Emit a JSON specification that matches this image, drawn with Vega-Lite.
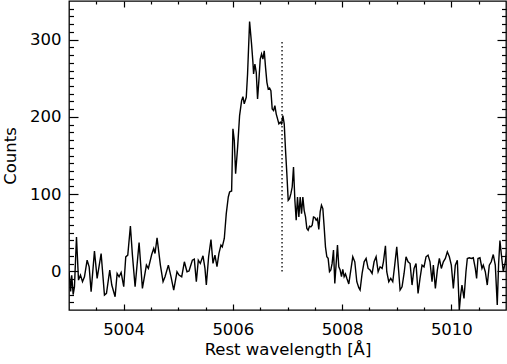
{
  "$schema": "https://vega.github.io/schema/vega-lite/v6.json",
  "width": 437,
  "height": 309,
  "autosize": {"type": "none"},
  "padding": {"left": 69, "top": 1, "right": 1, "bottom": 54},
  "background": "white",
  "config": {
    "view": {"stroke": "black", "strokeWidth": 1.3},
    "axis": {"grid": false, "domain": false, "labelColor": "black", "titleColor": "black", "tickColor": "black", "tickWidth": 1.2, "labelFont": "DejaVu Sans", "titleFont": "DejaVu Sans", "titleFontWeight": "normal", "labelFlush": false}
  },
  "datasets": {
    "spec": [
      {"w": 5003.000, "c": 0}, {"w": 5003.015, "c": -11}, {"w": 5003.030, "c": -26}, {"w": 5003.050, "c": -5},
      {"w": 5003.076, "c": -30}, {"w": 5003.100, "c": -20}, {"w": 5003.137, "c": 44.6}, {"w": 5003.174, "c": -11.3},
      {"w": 5003.210, "c": -4.8}, {"w": 5003.247, "c": -13.4}, {"w": 5003.283, "c": -7}, {"w": 5003.332, "c": 14.5},
      {"w": 5003.369, "c": 5.9}, {"w": 5003.405, "c": -26.3}, {"w": 5003.466, "c": 26.2}, {"w": 5003.515, "c": -9.1},
      {"w": 5003.588, "c": 23.1}, {"w": 5003.649, "c": -30.6}, {"w": 5003.686, "c": -28.5}, {"w": 5003.746, "c": 1.6},
      {"w": 5003.783, "c": -17.7}, {"w": 5003.844, "c": -32.8}, {"w": 5003.881, "c": -2.7}, {"w": 5003.917, "c": -7},
      {"w": 5003.954, "c": -1.4}, {"w": 5004.002, "c": -19.9}, {"w": 5004.039, "c": 18.8}, {"w": 5004.076, "c": 21},
      {"w": 5004.124, "c": 58.8}, {"w": 5004.161, "c": 21}, {"w": 5004.210, "c": -19.9}, {"w": 5004.283, "c": 37.3},
      {"w": 5004.344, "c": -22}, {"w": 5004.417, "c": 8.1}, {"w": 5004.453, "c": 3.8}, {"w": 5004.514, "c": 21.8},
      {"w": 5004.551, "c": 29.6}, {"w": 5004.575, "c": 23.1}, {"w": 5004.612, "c": 43.4}, {"w": 5004.673, "c": 8.1},
      {"w": 5004.722, "c": -13.4}, {"w": 5004.758, "c": -7}, {"w": 5004.819, "c": 8.1}, {"w": 5004.868, "c": -7},
      {"w": 5004.917, "c": -24.2}, {"w": 5004.977, "c": -0.5}, {"w": 5005.014, "c": -4.8}, {"w": 5005.063, "c": -7},
      {"w": 5005.112, "c": 12.4}, {"w": 5005.160, "c": -0.5}, {"w": 5005.197, "c": 0.4}, {"w": 5005.258, "c": 14.5},
      {"w": 5005.294, "c": 15.8}, {"w": 5005.331, "c": -13.4}, {"w": 5005.367, "c": 14.5}, {"w": 5005.404, "c": 10.2},
      {"w": 5005.453, "c": 20.1}, {"w": 5005.489, "c": 3.8}, {"w": 5005.514, "c": -17.6}, {"w": 5005.556, "c": 18.9},
      {"w": 5005.599, "c": 41.3}, {"w": 5005.636, "c": 10.3}, {"w": 5005.672, "c": 21.1}, {"w": 5005.709, "c": 6.0},
      {"w": 5005.745, "c": 23.2}, {"w": 5005.782, "c": 34.0}, {"w": 5005.806, "c": 31.8}, {"w": 5005.843, "c": 42.6},
      {"w": 5005.879, "c": 74.8}, {"w": 5005.916, "c": 96.3}, {"w": 5005.940, "c": 102.8}, {"w": 5005.977, "c": 104.1},
      {"w": 5006.001, "c": 184.5}, {"w": 5006.026, "c": 169.5}, {"w": 5006.050, "c": 126.4}, {"w": 5006.087, "c": 160.9},
      {"w": 5006.123, "c": 201.7}, {"w": 5006.160, "c": 221.1}, {"w": 5006.184, "c": 226.2}, {"w": 5006.208, "c": 216.8},
      {"w": 5006.245, "c": 225.4}, {"w": 5006.269, "c": 255.5}, {"w": 5006.306, "c": 323.4}, {"w": 5006.342, "c": 294.2},
      {"w": 5006.367, "c": 270.5}, {"w": 5006.379, "c": 255.5}, {"w": 5006.403, "c": 268.4}, {"w": 5006.428, "c": 257.6},
      {"w": 5006.452, "c": 223.2}, {"w": 5006.476, "c": 246.9}, {"w": 5006.501, "c": 274.8}, {"w": 5006.525, "c": 281.3},
      {"w": 5006.550, "c": 274.8}, {"w": 5006.574, "c": 285.6}, {"w": 5006.598, "c": 264.1}, {"w": 5006.623, "c": 244.7},
      {"w": 5006.647, "c": 236.1}, {"w": 5006.672, "c": 237.4}, {"w": 5006.696, "c": 234.0}, {"w": 5006.720, "c": 210.3},
      {"w": 5006.745, "c": 208.2}, {"w": 5006.769, "c": 214.6}, {"w": 5006.793, "c": 203.9}, {"w": 5006.818, "c": 197.4},
      {"w": 5006.842, "c": 191.0}, {"w": 5006.867, "c": 193.1}, {"w": 5006.891, "c": 191.0}, {"w": 5006.915, "c": 201.7},
      {"w": 5006.940, "c": 191.0}, {"w": 5006.964, "c": 156.6}, {"w": 5006.988, "c": 126.4}, {"w": 5007.013, "c": 92.0},
      {"w": 5007.037, "c": 94.2}, {"w": 5007.062, "c": 100.6}, {"w": 5007.086, "c": 109.2}, {"w": 5007.110, "c": 135.0},
      {"w": 5007.135, "c": 92.0}, {"w": 5007.159, "c": 66.2}, {"w": 5007.183, "c": 96.3}, {"w": 5007.208, "c": 70.5},
      {"w": 5007.232, "c": 96.3}, {"w": 5007.257, "c": 74.8}, {"w": 5007.281, "c": 96.3}, {"w": 5007.305, "c": 79.1},
      {"w": 5007.330, "c": 70.5}, {"w": 5007.354, "c": 55.5}, {"w": 5007.378, "c": 53.3}, {"w": 5007.403, "c": 58.5},
      {"w": 5007.427, "c": 57.6}, {"w": 5007.452, "c": 59.8}, {"w": 5007.476, "c": 70.5}, {"w": 5007.500, "c": 69.7},
      {"w": 5007.525, "c": 66.2}, {"w": 5007.549, "c": 68.4}, {"w": 5007.573, "c": 54.2}, {"w": 5007.598, "c": 77.0},
      {"w": 5007.622, "c": 85.6}, {"w": 5007.647, "c": 81.3}, {"w": 5007.671, "c": 57.6}, {"w": 5007.695, "c": 31.8},
      {"w": 5007.720, "c": 18.9}, {"w": 5007.744, "c": 16.8}, {"w": 5007.769, "c": -0.4}, {"w": 5007.793, "c": 1.7},
      {"w": 5007.817, "c": 10.3}, {"w": 5007.842, "c": 27.5}, {"w": 5007.866, "c": -15.5}, {"w": 5007.891, "c": 10.3},
      {"w": 5007.915, "c": 34.0}, {"w": 5007.939, "c": 6.0}, {"w": 5007.964, "c": 1.7}, {"w": 5007.988, "c": -6.9},
      {"w": 5008.012, "c": 2.6}, {"w": 5008.037, "c": -6.9}, {"w": 5008.061, "c": -3.4}, {"w": 5008.086, "c": -9.0},
      {"w": 5008.122, "c": -16.3}, {"w": 5008.159, "c": 1.7}, {"w": 5008.195, "c": 18.9}, {"w": 5008.232, "c": 12.4},
      {"w": 5008.269, "c": -13.4}, {"w": 5008.305, "c": -21.1}, {"w": 5008.329, "c": -24.2}, {"w": 5008.366, "c": -2.7},
      {"w": 5008.403, "c": 12.4}, {"w": 5008.439, "c": 16.7}, {"w": 5008.476, "c": 3.8}, {"w": 5008.512, "c": 1.7},
      {"w": 5008.549, "c": -2.7}, {"w": 5008.585, "c": 12.4}, {"w": 5008.622, "c": 18.9}, {"w": 5008.659, "c": -0.5},
      {"w": 5008.695, "c": 5.9}, {"w": 5008.732, "c": 3.8}, {"w": 5008.756, "c": 12.4}, {"w": 5008.793, "c": 33.0},
      {"w": 5008.817, "c": -0.5}, {"w": 5008.854, "c": -13.4}, {"w": 5008.890, "c": -9.1}, {"w": 5008.927, "c": -13.4},
      {"w": 5008.963, "c": 8.1}, {"w": 5009.000, "c": 31.7}, {"w": 5009.036, "c": -0.5}, {"w": 5009.061, "c": -24.2},
      {"w": 5009.097, "c": -19.9}, {"w": 5009.134, "c": -2.7}, {"w": 5009.170, "c": 18.9}, {"w": 5009.207, "c": 12.4},
      {"w": 5009.244, "c": 10.2}, {"w": 5009.280, "c": -17.7}, {"w": 5009.317, "c": 3.8}, {"w": 5009.353, "c": 10.2},
      {"w": 5009.390, "c": -28.5}, {"w": 5009.426, "c": -9.1}, {"w": 5009.463, "c": 8.1}, {"w": 5009.499, "c": 5.9},
      {"w": 5009.536, "c": 18.9}, {"w": 5009.573, "c": 21.0}, {"w": 5009.609, "c": 12.4}, {"w": 5009.646, "c": -13.4},
      {"w": 5009.670, "c": 8.1}, {"w": 5009.707, "c": -22.0}, {"w": 5009.743, "c": 1.7}, {"w": 5009.780, "c": 16.7},
      {"w": 5009.816, "c": 3.8}, {"w": 5009.853, "c": 12.4}, {"w": 5009.890, "c": 16.7}, {"w": 5009.926, "c": 25.3},
      {"w": 5009.963, "c": 18.9}, {"w": 5009.999, "c": 8.1}, {"w": 5010.036, "c": -22.0}, {"w": 5010.072, "c": 8.1},
      {"w": 5010.109, "c": 14.5}, {"w": 5010.145, "c": -50}, {"w": 5010.170, "c": -30.6}, {"w": 5010.194, "c": -17.7},
      {"w": 5010.231, "c": -34.9}, {"w": 5010.267, "c": -0.5}, {"w": 5010.292, "c": 16.7}, {"w": 5010.328, "c": 17.6},
      {"w": 5010.365, "c": 16.7}, {"w": 5010.401, "c": 17.6}, {"w": 5010.438, "c": 3.8}, {"w": 5010.462, "c": -9.1},
      {"w": 5010.487, "c": 16.7}, {"w": 5010.523, "c": 17.6}, {"w": 5010.560, "c": 3.8}, {"w": 5010.584, "c": 8.1},
      {"w": 5010.621, "c": -0.5}, {"w": 5010.657, "c": -17.7}, {"w": 5010.694, "c": 8.1}, {"w": 5010.730, "c": 12.4},
      {"w": 5010.767, "c": 21.8}, {"w": 5010.804, "c": 8.1}, {"w": 5010.840, "c": -43.5}, {"w": 5010.865, "c": 10.2},
      {"w": 5010.889, "c": 40}, {"w": 5010.913, "c": 23.1}, {"w": 5010.950, "c": -0.5}, {"w": 5010.987, "c": 12.4},
      {"w": 5011.020, "c": 30}
    ],
    "marker": [{"w": 5006.9, "c0": 0, "c1": 300}]
  },
  "data": {"name": "spec"},
  "layer": [
    {
      "mark": {"type": "line", "color": "black", "strokeWidth": 1.4, "clip": true},
      "encoding": {
        "x": {"field": "w", "type": "quantitative", "scale": {"domain": [5003, 5011], "nice": false, "zero": false},
          "axis": {"orient": "bottom", "values": [5004, 5006, 5008, 5010], "format": "d", "ticks": false, "labelPadding": 11, "labelFontSize": 16.5, "labelBaseline": "top",
            "title": "Rest wavelength [Å]", "titleFontSize": 16.5, "titlePadding": 3.5}},
        "y": {"field": "c", "type": "quantitative", "scale": {"domain": [-50, 350], "nice": false, "zero": false},
          "axis": {"orient": "left", "values": [0, 100, 200, 300], "format": "d", "ticks": false, "labelPadding": 8, "labelFontSize": 16.5,
            "title": "Counts", "titleFontSize": 16.5, "titlePadding": 11}}
      }
    },
    {
      "mark": {"type": "line", "opacity": 0},
      "encoding": {
        "x": {"field": "w", "type": "quantitative", "axis": {"orient": "bottom", "values": [5004, 5006, 5008, 5010], "labels": false, "title": null, "tickSize": -6}},
        "y": {"field": "c", "type": "quantitative", "axis": {"orient": "left", "values": [0, 100, 200, 300], "labels": false, "title": null, "tickSize": -9}}
      }
    },
    {
      "mark": {"type": "line", "opacity": 0},
      "encoding": {
        "x": {"field": "w", "type": "quantitative", "axis": {"orient": "bottom", "values": [5003.5, 5004.5, 5005, 5005.5, 5006.5, 5007, 5007.5, 5008.5, 5009, 5009.5, 5010.5], "labels": false, "title": null, "tickSize": -3}},
        "y": {"field": "c", "type": "quantitative", "axis": {"orient": "left", "values": [-40, -30, -20, -10, 10, 20, 30, 40, 50, 60, 70, 80, 90, 110, 120, 130, 140, 150, 160, 170, 180, 190, 210, 220, 230, 240, 250, 260, 270, 280, 290, 310, 320, 330, 340], "labels": false, "title": null, "tickSize": -4.5}}
      }
    },
    {
      "mark": {"type": "line", "opacity": 0},
      "encoding": {
        "x": {"field": "w", "type": "quantitative", "axis": {"orient": "top", "values": [5004, 5006, 5008, 5010], "labels": false, "title": null, "tickSize": -6}},
        "y": {"field": "c", "type": "quantitative", "axis": {"orient": "right", "values": [0, 100, 200, 300], "labels": false, "title": null, "tickSize": -9}}
      }
    },
    {
      "mark": {"type": "line", "opacity": 0},
      "encoding": {
        "x": {"field": "w", "type": "quantitative", "axis": {"orient": "top", "values": [5003.5, 5004.5, 5005, 5005.5, 5006.5, 5007, 5007.5, 5008.5, 5009, 5009.5, 5010.5], "labels": false, "title": null, "tickSize": -3}},
        "y": {"field": "c", "type": "quantitative", "axis": {"orient": "right", "values": [-40, -30, -20, -10, 10, 20, 30, 40, 50, 60, 70, 80, 90, 110, 120, 130, 140, 150, 160, 170, 180, 190, 210, 220, 230, 240, 250, 260, 270, 280, 290, 310, 320, 330, 340], "labels": false, "title": null, "tickSize": -4.5}}
      }
    },
    {
      "data": {"name": "marker"},
      "mark": {"type": "rule", "color": "black", "strokeWidth": 1.3, "strokeDash": [1.5, 2.5]},
      "encoding": {
        "x": {"field": "w", "type": "quantitative", "axis": null},
        "y": {"field": "c0", "type": "quantitative", "axis": null},
        "y2": {"field": "c1"}
      }
    }
  ],
  "resolve": {"axis": {"x": "independent", "y": "independent"}}
}
